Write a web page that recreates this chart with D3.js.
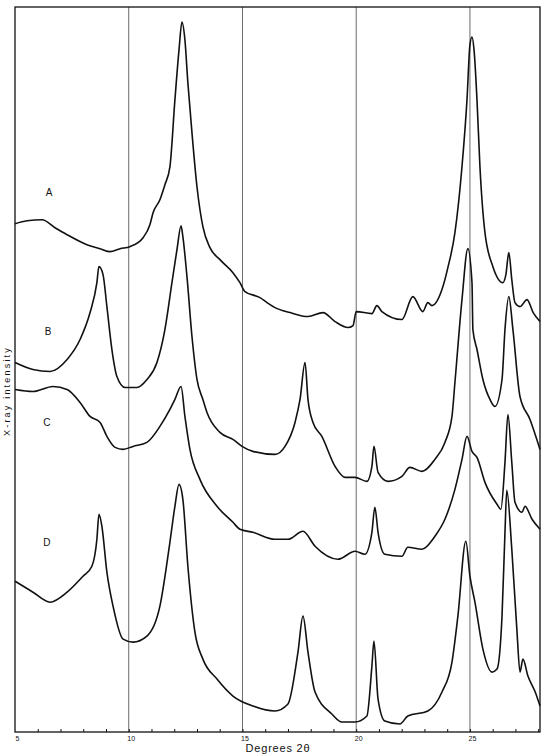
<!DOCTYPE html>
<html>
<head>
<meta charset="utf-8">
<script src="https://cdn.jsdelivr.net/npm/d3@7"></script>
<style>
  body { margin: 0; background: #fff; }
  svg { display: block; font-family: "Liberation Sans", Arial, sans-serif; }
  .frame { fill: none; stroke: #111; stroke-width: 1.3; }
  .grid line { stroke: #444; stroke-width: 0.8; }
  .trace { fill: none; stroke: #111; stroke-width: 1.6; stroke-linejoin: round; }
  .x-axis .domain { display: none; }
  .x-axis line { stroke: #111; }
  .x-axis text { font-size: 7px; fill: #111; }
  .curve-label { font-size: 10px; fill: #111; }
  .axis-title { fill: #111; }
</style>
</head>
<body>
<div id="chart"></div>
<script>
(function (d3) {
    'use strict';

    // Degrees 2-theta, intensity (arbitrary units, curves offset as in the figure).
    var traceA = [
        [5.00, 509], [5.53, 512], [6.19, 513], [6.76, 505], [7.29, 498], [8.16, 488],
        [8.74, 484], [9.18, 481], [9.62, 484], [10.05, 486], [10.63, 495], [10.93, 508],
        [11.07, 520], [11.37, 533], [11.59, 548], [11.81, 566], [12.03, 633], [12.21, 683],
        [12.34, 711], [12.47, 693], [12.60, 650], [12.78, 600], [13.00, 546], [13.26, 506],
        [13.57, 485], [14.01, 473], [14.58, 460], [14.89, 450], [15.11, 441], [15.77, 435],
        [16.08, 430], [16.43, 425], [17.09, 420], [17.88, 416], [18.54, 420], [19.07, 411],
        [19.64, 405], [19.86, 407], [20.00, 421], [20.69, 419], [20.91, 427], [21.13, 421],
        [22.01, 413], [22.49, 436], [22.93, 421], [23.15, 430], [23.33, 427], [23.77, 443],
        [24.03, 465], [24.34, 500], [24.65, 566], [24.87, 633], [25.00, 688], [25.09, 696],
        [25.18, 683], [25.31, 633], [25.44, 566], [25.66, 500], [26.01, 466], [26.45, 450],
        [26.58, 458], [26.71, 480], [26.84, 453], [26.98, 430], [27.20, 426], [27.51, 433],
        [27.78, 420], [28.08, 411]
    ];

    var traceB = [
        [5.00, 370], [5.79, 363], [6.54, 361], [7.29, 373], [7.86, 393], [8.30, 420],
        [8.60, 450], [8.69, 466], [8.87, 458], [9.04, 426], [9.26, 383], [9.48, 356],
        [9.84, 345], [10.36, 345], [10.80, 353], [11.24, 370], [11.59, 403], [11.90, 450],
        [12.12, 483], [12.30, 507], [12.38, 496], [12.56, 456], [12.78, 396], [13.00, 353],
        [13.26, 333], [13.44, 320], [14.01, 300], [14.58, 293], [14.98, 286], [15.46, 281],
        [16.43, 278], [16.87, 286], [17.31, 310], [17.53, 333], [17.75, 370], [17.88, 333],
        [18.10, 310], [18.49, 296], [19.07, 266], [19.51, 255], [19.95, 255], [20.47, 251],
        [20.69, 266], [20.78, 286], [20.96, 260], [21.40, 251], [22.01, 256], [22.36, 265],
        [22.89, 261], [23.46, 273], [23.90, 290], [24.21, 316], [24.34, 350], [24.65, 433],
        [24.91, 484], [25.09, 450], [25.13, 403], [25.31, 383], [25.57, 353], [25.88, 333],
        [26.10, 326], [26.41, 353], [26.54, 403], [26.71, 436], [26.89, 403], [27.20, 336],
        [27.64, 313], [28.08, 283]
    ];

    var traceC = [
        [5.00, 343], [5.79, 341], [6.67, 346], [7.29, 343], [7.86, 330], [8.30, 316],
        [8.74, 310], [9.04, 296], [9.40, 285], [9.75, 283], [10.19, 286], [10.80, 290],
        [11.37, 306], [11.81, 323], [12.03, 333], [12.30, 346], [12.47, 316], [12.69, 283],
        [13.13, 253], [13.88, 226], [14.58, 210], [14.89, 203], [15.46, 200], [16.43, 193],
        [17.00, 193], [17.66, 201], [18.19, 186], [19.20, 173], [19.95, 181], [20.38, 178],
        [20.69, 200], [20.82, 225], [20.96, 200], [21.26, 178], [22.01, 176], [22.27, 185],
        [22.89, 183], [23.46, 196], [23.90, 213], [24.34, 243], [24.65, 273], [24.87, 296],
        [25.09, 281], [25.31, 275], [25.66, 250], [26.19, 228], [26.36, 223], [26.54, 270],
        [26.67, 318], [26.84, 270], [26.98, 230], [27.29, 220], [27.42, 226], [27.73, 213],
        [28.08, 203]
    ];

    var traceD = [
        [5.00, 151], [5.79, 140], [6.54, 130], [7.29, 140], [7.99, 156], [8.38, 166],
        [8.60, 193], [8.69, 218], [8.82, 206], [9.04, 160], [9.31, 126], [9.75, 93],
        [10.19, 90], [10.80, 96], [11.37, 126], [11.81, 190], [12.03, 226], [12.21, 248],
        [12.38, 233], [12.60, 166], [12.91, 100], [13.26, 73], [13.88, 53], [14.58, 36],
        [15.46, 26], [16.43, 21], [17.00, 28], [17.44, 80], [17.66, 116], [17.88, 80],
        [18.19, 40], [18.93, 18], [19.37, 10], [19.95, 10], [20.47, 16], [20.69, 66],
        [20.78, 91], [20.96, 33], [21.26, 11], [21.92, 8], [22.27, 16], [23.15, 21],
        [23.77, 40], [24.21, 70], [24.47, 116], [24.82, 191], [25.00, 156], [25.22, 130],
        [25.57, 83], [25.97, 60], [26.19, 63], [26.41, 116], [26.54, 200], [26.62, 242],
        [26.84, 183], [27.07, 100], [27.20, 60], [27.33, 73], [27.55, 56], [27.87, 40],
        [28.08, 26]
    ];

    var traces = [traceA, traceB, traceC, traceD];
    var traceNames = ['A', 'B', 'C', 'D'];
    // where each letter sits: [2-theta, intensity]
    var labelSpots = [[6.5, 540], [6.45, 401], [6.4, 310], [6.4, 190]];
    var gridTicks = [10, 15, 20, 25];
    var tickLabels = [5, 10, 15, 20, 25];
    var minorTicks = d3.range(6, 29);

    // Dimensions of the chart.
    var margin = {top: 7, right: 10, bottom: 24, left: 15};
    var width = 550 - margin.left - margin.right;
    var height = 756 - margin.top - margin.bottom;

    var x = d3.scaleLinear().domain([5, 28.08]).range([0, width]);
    var y = d3.scaleLinear().domain([0, 726]).range([height, 0]);

    var svg = d3.select('#chart').append('svg')
        .attr('width', 550)
        .attr('height', 756);

    var vis = svg.append('g')
        .attr('transform', 'translate(' + margin.left + ',' + margin.top + ')');

    // vertical rules at every 5 degrees
    vis.append('g')
        .attr('class', 'grid')
        .selectAll('line')
        .data(gridTicks)
        .enter().append('line')
        .attr('x1', function (d) { return x(d); })
        .attr('x2', function (d) { return x(d); })
        .attr('y1', 0)
        .attr('y2', height);

    // small inward marks each degree
    vis.append('g')
        .attr('class', 'x-axis')
        .attr('transform', 'translate(0,' + height + ')')
        .call(d3.axisTop(x).tickValues(minorTicks).tickSize(3).tickFormat(''));

    // labels under the axis
    vis.append('g')
        .attr('class', 'x-axis')
        .attr('transform', 'translate(0,' + height + ')')
        .call(d3.axisBottom(x).tickValues(tickLabels).tickSize(0).tickPadding(4)
            .tickFormat(d3.format('d')))
        .selectAll('text')
        .attr('dx', '2');

    var line = d3.line()
        .x(function (d) { return x(d[0]); })
        .y(function (d) { return y(d[1]); })
        .curve(d3.curveMonotoneX);

    vis.selectAll('.trace')
        .data(traces)
        .enter().append('path')
        .attr('class', 'trace')
        .attr('d', line);

    vis.selectAll('.curve-label')
        .data(traceNames)
        .enter().append('text')
        .attr('class', 'curve-label')
        .attr('x', function (d, i) { return x(labelSpots[i][0]); })
        .attr('y', function (d, i) { return y(labelSpots[i][1]); })
        .attr('text-anchor', 'middle')
        .attr('dominant-baseline', 'central')
        .text(function (d) { return d; });

    vis.append('rect')
        .attr('class', 'frame')
        .attr('width', width)
        .attr('height', height);

    svg.append('text')
        .attr('class', 'axis-title')
        .attr('x', 278)
        .attr('y', 752)
        .attr('text-anchor', 'middle')
        .style('font-size', '11px')
        .style('letter-spacing', '0.8px')
        .text('Degrees 2\u03B8');

    svg.append('text')
        .attr('class', 'axis-title')
        .attr('transform', 'translate(10,391) rotate(-90)')
        .attr('text-anchor', 'middle')
        .style('font-size', '9px')
        .style('letter-spacing', '2.2px')
        .text('X-ray intensity');
})(d3);
</script>
</body>
</html>
